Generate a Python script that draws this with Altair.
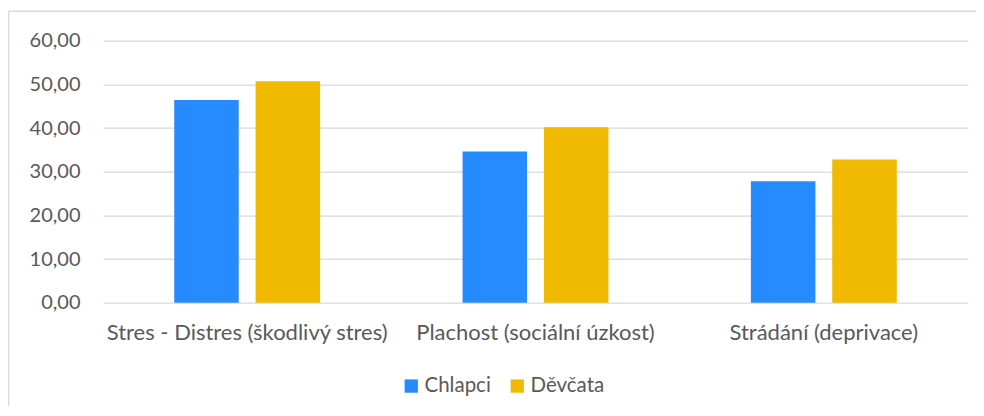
import altair as alt
import pandas as pd

categories = ["Stres - Distres (škodlivý stres)", "Plachost (sociální úzkost)", "Strádání (deprivace)"]
series = ["Chlapci", "Děvčata"]
chlapci = [46.4, 34.6, 27.8]
devcata = [50.7, 40.2, 32.8]
colors = ["#268BFF", "#F0BA00"]
y_ticks = [0, 10, 20, 30, 40, 50, 60]

rows = []
for c, a, b in zip(categories, chlapci, devcata):
    rows.append({"kategorie": c, "skupina": series[0], "hodnota": a})
    rows.append({"kategorie": c, "skupina": series[1], "hodnota": b})
df = pd.DataFrame(rows)

FONT = "Lato"
W, H = 865, 262

bars = alt.Chart(df).mark_bar().encode(
    x=alt.X("kategorie:N", sort=categories, title=None,
            scale=alt.Scale(paddingInner=0.494, paddingOuter=0.247),
            axis=alt.Axis(labelAngle=0, ticks=False, domain=False, grid=False,
                          labelFontSize=22, labelFont=FONT, labelColor="#595959",
                          labelPadding=20, labelLimit=400)),
    xOffset=alt.XOffset("skupina:N", sort=series,
                        scale=alt.Scale(paddingInner=0.207, paddingOuter=0)),
    y=alt.Y("hodnota:Q", title=None,
            scale=alt.Scale(domain=[0, 60], nice=False),
            axis=alt.Axis(values=y_ticks, ticks=False, domain=False, grid=True,
                          gridColor="#D9D9D9", gridWidth=1.2,
                          labelFontSize=20, labelFont=FONT, labelColor="#595959",
                          labelPadding=23,
                          labelExpr="replace(format(datum.value, '.2f'), '.', ',')")),
    color=alt.Color("skupina:N", sort=series,
                    scale=alt.Scale(domain=series, range=colors),
                    legend=alt.Legend(title=None, orient="none", direction="horizontal",
                                      legendX=298, legendY=335, padding=0,
                                      symbolType="square", symbolSize=177,
                                      symbolStrokeWidth=0, labelOffset=3,
                                      columnPadding=16,
                                      labelFontSize=20.5, labelFont=FONT,
                                      labelColor="#595959")),
)

frame = pd.DataFrame({"a": [0]})
left_line = alt.Chart(frame).mark_rule(color="#D9D9D9", strokeWidth=1.5).encode(
    x=alt.value(-94.5), y=alt.value(-29.5), y2=alt.value(H + 150),
)
top_line = alt.Chart(frame).mark_rule(color="#D9D9D9", strokeWidth=1.5).encode(
    x=alt.value(-94.5), x2=alt.value(W + 40), y=alt.value(-29.5),
)

chart = alt.layer(left_line, top_line, bars).properties(
    width=W, height=H,
    autosize=alt.AutoSizeParams(type="none"),
    padding={"left": 95, "top": 32.7, "right": 8, "bottom": 103},
    background="white",
).configure_view(strokeWidth=0)

chart.save("out.html", embed_options={"renderer": "svg", "actions": False})
